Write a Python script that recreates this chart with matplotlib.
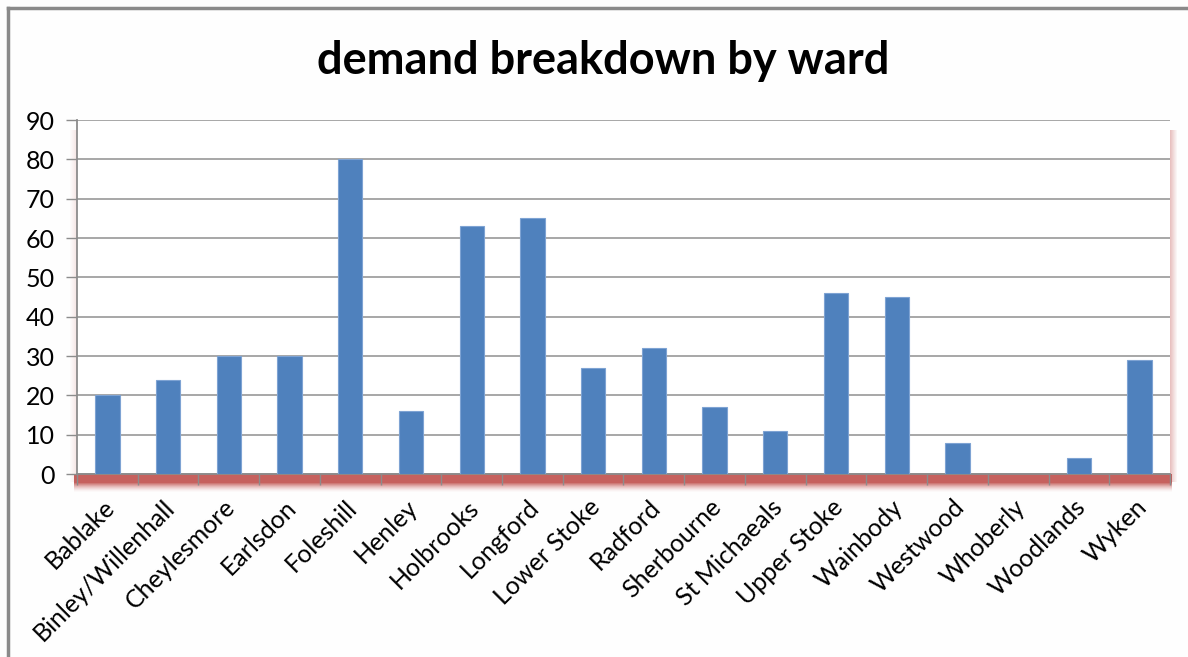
import matplotlib.pyplot as plt
import numpy as np
from matplotlib.patches import Rectangle
from matplotlib.lines import Line2D

wards = ['Bablake', 'Binley/Willenhall', 'Cheylesmore', 'Earlsdon', 'Foleshill',
         'Henley', 'Holbrooks', 'Longford', 'Lower Stoke', 'Radford',
         'Sherbourne', 'St Michaeals', 'Upper Stoke', 'Wainbody', 'Westwood',
         'Whoberly', 'Woodlands', 'Wyken']
demand = [20, 24, 30, 30, 80, 16, 63, 65, 27, 32, 17, 11, 46, 45, 8, 0, 4, 29]
y_ticks = [0, 10, 20, 30, 40, 50, 60, 70, 80, 90]

W, H = 1188, 657
fig = plt.figure(figsize=(W / 100, H / 100), dpi=100)
fig.patch.set_facecolor('#fefefe')

# plot area in pixel terms
px_left, px_right, px_top, px_bottom = 77, 1170, 120, 474
ax = fig.add_axes([px_left / W, 1 - px_bottom / H,
                   (px_right - px_left) / W, (px_bottom - px_top) / H])
ax.set_facecolor('white')

# soft red shadow round the plot area
for i in range(18):
    a = 0.9 if i < 9 else 0.9 * (1 - (i - 8) / 10) ** 1.6
    fig.add_artist(Rectangle(((px_left - 3) / W, 1 - (px_bottom + 1 + i) / H),
                             (px_right - px_left + 5) / W, 1 / H,
                             transform=fig.transFigure, color='#c0504d',
                             alpha=a, lw=0, zorder=-1))
for i in range(7):
    a = 0.35 * (1 - i / 7)
    fig.add_artist(Rectangle(((px_right + i) / W, 1 - (px_bottom + 8) / H),
                             1 / W, (px_bottom - px_top - 2) / H,
                             transform=fig.transFigure, color='#c0504d',
                             alpha=a, lw=0, zorder=-1))
    fig.add_artist(Rectangle(((px_left - 1 - i) / W, 1 - (px_bottom + 8) / H),
                             1 / W, (px_bottom - px_top - 2) / H,
                             transform=fig.transFigure, color='#c0504d',
                             alpha=a * 0.4, lw=0, zorder=-1))

x = np.arange(len(wards))
ax.bar(x, demand, width=0.4, color='#4f81bd', edgecolor='#7ea3d3',
       linewidth=0.8, zorder=3)

ax.set_xlim(-0.5, len(wards) - 0.5)
ax.set_ylim(0, 90)
ax.set_yticks(y_ticks)
ax.yaxis.grid(True, color='#a0a0a0', linewidth=1.3, zorder=0)
ax.set_axisbelow(True)

ax.set_xticks(np.append(x - 0.5, len(wards) - 0.5))
ax.set_xticklabels([])
ax.tick_params(axis='x', length=8, width=1, color='#8c8c8c', direction='out')
ax.tick_params(axis='y', length=8, width=1, color='#8c8c8c', direction='out',
               labelsize=18, pad=8)
for lbl in ax.get_yticklabels():
    lbl.set_fontfamily('Lato')

for s in ['top', 'right']:
    ax.spines[s].set_visible(False)
for s in ['left', 'bottom']:
    ax.spines[s].set_color('#8c8c8c')
    ax.spines[s].set_linewidth(1.3)

# rotated category labels, ending under each bar
for xi, name in zip(x, wards):
    ax.text(xi + 0.05, -7.5, name, rotation=45, rotation_mode='anchor',
            ha='right', va='center', fontsize=18, family='Lato',
            color='#000000', transform=ax.transData, clip_on=False)

fig.text(603 / W, 1 - 61 / H, 'demand breakdown by ward', ha='center',
         va='center', fontsize=32.5, fontweight='bold', family='Lato')

# chart frame: only top and left edges show
fig.add_artist(Line2D([8 / W, 8 / W], [0, 1 - 8 / H], transform=fig.transFigure,
                      color='#8a8a8a', lw=2.5))
fig.add_artist(Line2D([8 / W, 1], [1 - 8 / H, 1 - 8 / H], transform=fig.transFigure,
                      color='#8a8a8a', lw=2.5))

fig.savefig('out.png', dpi=100, facecolor=fig.get_facecolor())
